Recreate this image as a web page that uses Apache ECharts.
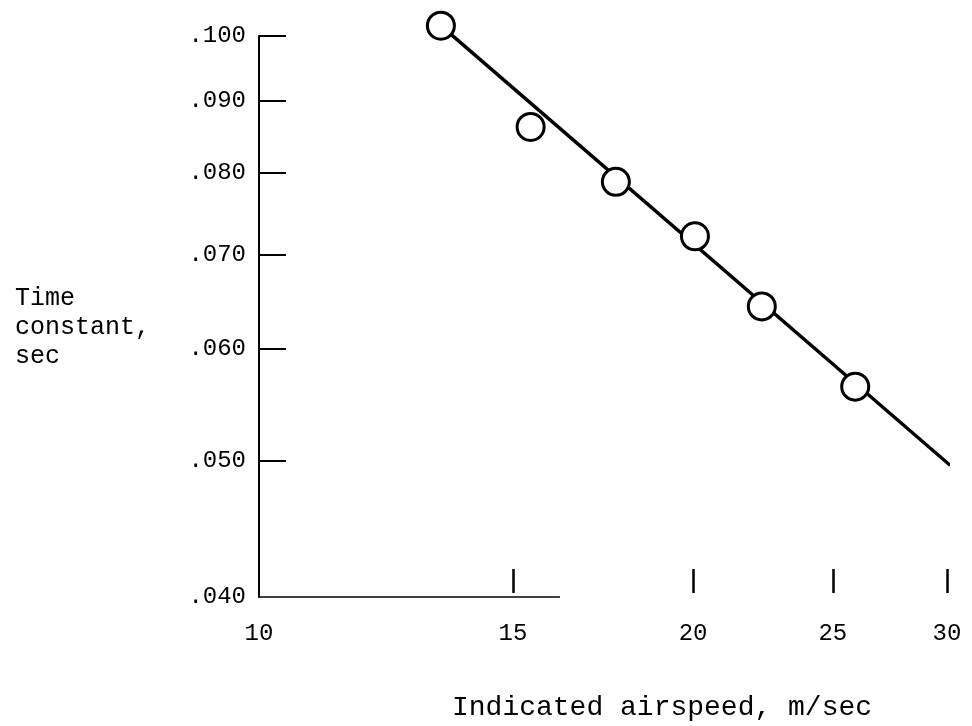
<!DOCTYPE html>
<html>
<head>
<meta charset="utf-8">
<script src="https://cdn.jsdelivr.net/npm/echarts@6/dist/echarts.min.js"></script>
<style>
  html, body { margin: 0; padding: 0; background: #fff; }
  #chart { width: 972px; height: 726px; }
</style>
</head>
<body>
<div id="chart"></div>
<script>
// Measured points (indicated airspeed, m/sec ; time constant, sec)
var airspeed = [13.37, 15.43, 17.68, 20.06, 22.32, 25.91];
var timeConstant = [0.1017, 0.0862, 0.0788, 0.0721, 0.0643, 0.0564];

// Faired line end points
var fitSpeed = [13.37, 30.15];
var fitTime = [0.1017, 0.0496];

// Tick labels
var xLabelValues = [10, 15, 20, 25, 30];
var xTickValues = [15, 20, 25, 30];
var yLabelValues = [0.04, 0.05, 0.06, 0.07, 0.08, 0.09, 0.1];
var yTickValues = [0.05, 0.06, 0.07, 0.08, 0.09, 0.1];

// the drawn abscissa line stops short of the ticks
var xAxisLineEnd = 16.17;

var font = "'Liberation Mono', 'DejaVu Sans Mono', monospace";

var chart = echarts.init(document.getElementById("chart"));

var points = airspeed.map(function (v, i) {
  return [v, timeConstant[i]];
});
var fit = fitSpeed.map(function (v, i) {
  return [v, fitTime[i]];
});

chart.setOption({
  animation: false,
  backgroundColor: "#fff",
  title: [
    {
      text: "Time\nconstant,\nsec",
      left: 15,
      top: 284,
      padding: 0,
      textStyle: { fontFamily: font, fontSize: 25, fontWeight: "normal", color: "#000", lineHeight: 29 }
    },
    {
      text: "Indicated airspeed, m/sec",
      left: 452,
      top: 694,
      padding: 0,
      textStyle: { fontFamily: font, fontSize: 28, fontWeight: "normal", color: "#000" }
    }
  ],
  grid: { left: 259, right: 25, top: 36, bottom: 129, containLabel: false },
  xAxis: [
    {
      type: "log",
      min: 10,
      max: 30,
      axisLine: { show: false },
      axisTick: { show: false },
      splitLine: { show: false },
      minorTick: { show: false },
      axisLabel: {
        customValues: xLabelValues,
        margin: 25,
        color: "#000",
        fontFamily: font,
        fontSize: 24
      }
    },
    {
      type: "log",
      min: 10,
      max: 30,
      position: "bottom",
      offset: -4,
      axisLine: { show: false },
      axisLabel: { show: false },
      splitLine: { show: false },
      axisTick: {
        show: true,
        customValues: xTickValues,
        inside: true,
        length: 24,
        lineStyle: { color: "#000", width: 2.5 }
      }
    }
  ],
  yAxis: {
    type: "log",
    min: 0.04,
    max: 0.1,
    axisLine: { show: true, lineStyle: { color: "#000", width: 2 } },
    splitLine: { show: false },
    minorTick: { show: false },
    axisTick: {
      show: true,
      customValues: yTickValues,
      inside: true,
      length: 27,
      lineStyle: { color: "#000", width: 2 }
    },
    axisLabel: {
      customValues: yLabelValues,
      margin: 13,
      color: "#000",
      fontFamily: font,
      fontSize: 24,
      formatter: function (v) {
        return Number(v).toFixed(3).slice(1);
      }
    }
  },
  series: [
    {
      type: "line",
      data: fit,
      symbol: "none",
      clip: false,
      lineStyle: { color: "#000", width: 3.5 },
      z: 2,
      markLine: {
        silent: true,
        symbol: "none",
        label: { show: false },
        lineStyle: { color: "#000", width: 1.5, type: "solid" },
        data: [[{ coord: [10, 0.04] }, { coord: [xAxisLineEnd, 0.04] }]]
      }
    },
    {
      type: "scatter",
      data: points,
      symbol: "circle",
      symbolSize: 27,
      clip: false,
      itemStyle: { color: "#fff", borderColor: "#000", borderWidth: 3, opacity: 1 },
      z: 3
    }
  ]
});
</script>
</body>
</html>
